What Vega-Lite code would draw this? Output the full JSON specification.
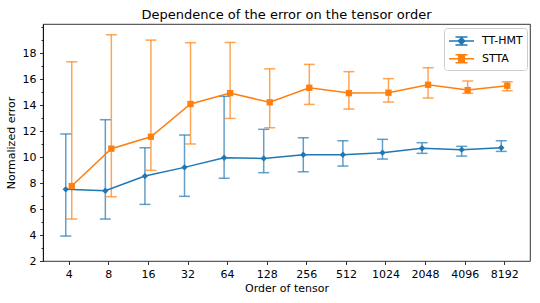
{
  "$schema": "https://vega.github.io/schema/vega-lite/v6.json",
  "width": 487,
  "height": 237,
  "autosize": "none",
  "padding": {"left": 43, "top": 24, "right": 10, "bottom": 42},
  "title": {"text": "Dependence of the error on the tensor order", "fontSize": 13, "fontWeight": "normal", "font": "DejaVu Sans", "color": "black", "offset": -1, "frame": "group"},
  "config": {
    "font": "DejaVu Sans",
    "view": {"stroke": "black", "strokeWidth": 0.8},
    "axis": {"domainColor": "black", "domainWidth": 0.8, "tickColor": "black", "tickWidth": 0.8, "labelColor": "black", "labelFontSize": 11, "titleFontSize": 11, "titleFontWeight": "normal", "titleColor": "black", "grid": false, "labelFont": "DejaVu Sans", "titleFont": "DejaVu Sans"},
    "axisY": {"labelOverlap": false}
  },
  "data": {"values": [
    {"order": "4", "series": "TT-HMT", "mean": 7.52, "lo": 3.92, "hi": 11.78},
    {"order": "8", "series": "TT-HMT", "mean": 7.41, "lo": 5.23, "hi": 12.88},
    {"order": "16", "series": "TT-HMT", "mean": 8.54, "lo": 6.36, "hi": 10.72},
    {"order": "32", "series": "TT-HMT", "mean": 9.21, "lo": 6.98, "hi": 11.70},
    {"order": "64", "series": "TT-HMT", "mean": 9.95, "lo": 8.37, "hi": 14.68},
    {"order": "128", "series": "TT-HMT", "mean": 9.90, "lo": 8.80, "hi": 12.14},
    {"order": "256", "series": "TT-HMT", "mean": 10.18, "lo": 8.87, "hi": 11.49},
    {"order": "512", "series": "TT-HMT", "mean": 10.18, "lo": 9.31, "hi": 11.26},
    {"order": "1024", "series": "TT-HMT", "mean": 10.34, "lo": 9.85, "hi": 11.37},
    {"order": "2048", "series": "TT-HMT", "mean": 10.68, "lo": 10.29, "hi": 11.11},
    {"order": "4096", "series": "TT-HMT", "mean": 10.57, "lo": 10.08, "hi": 10.83},
    {"order": "8192", "series": "TT-HMT", "mean": 10.72, "lo": 10.44, "hi": 11.26},
    {"order": "4", "series": "STTA", "mean": 7.77, "lo": 5.23, "hi": 17.34},
    {"order": "8", "series": "STTA", "mean": 10.65, "lo": 6.95, "hi": 19.42},
    {"order": "16", "series": "STTA", "mean": 11.57, "lo": 8.98, "hi": 19.01},
    {"order": "32", "series": "STTA", "mean": 14.09, "lo": 11.01, "hi": 18.81},
    {"order": "64", "series": "STTA", "mean": 14.93, "lo": 12.98, "hi": 18.83},
    {"order": "128", "series": "STTA", "mean": 14.22, "lo": 12.26, "hi": 16.80},
    {"order": "256", "series": "STTA", "mean": 15.34, "lo": 14.06, "hi": 17.14},
    {"order": "512", "series": "STTA", "mean": 14.93, "lo": 13.70, "hi": 16.58},
    {"order": "1024", "series": "STTA", "mean": 14.96, "lo": 14.24, "hi": 16.04},
    {"order": "2048", "series": "STTA", "mean": 15.57, "lo": 14.55, "hi": 16.88},
    {"order": "4096", "series": "STTA", "mean": 15.16, "lo": 14.91, "hi": 15.86},
    {"order": "8192", "series": "STTA", "mean": 15.50, "lo": 15.11, "hi": 15.80}
  ]},
  "encoding": {
    "x": {"field": "order", "type": "ordinal", "sort": null,
      "scale": {"type": "point", "padding": 0.65, "domain": ["4","8","16","32","64","128","256","512","1024","2048","4096","8192"]},
      "axis": {"title": "Order of tensor", "labelAngle": 0, "tickSize": 3.5, "labelPadding": 3.5, "titlePadding": 3, "domain": false}},
    "xOffset": {"field": "series", "type": "nominal", "scale": {"type": "point", "range": [-3, 3], "padding": 0, "domain": ["TT-HMT", "STTA"]}},
    "color": {"field": "series", "type": "nominal", "scale": {"domain": ["TT-HMT", "STTA"], "range": ["#1f77b4", "#ff7f0e"]},
      "legend": {"title": null, "orient": "top-right", "offset": 3.5, "fillColor": "white", "strokeColor": "#cccccc", "cornerRadius": 3, "padding": 4,
           "labelFontSize": 11, "labelColor": "black", "symbolSize": 256, "symbolStrokeWidth": 1.5, "symbolOpacity": 1, "rowPadding": 1.7, "labelOffset": 16,
           "symbolType": "M-1,0H2.125",
           "encode": {"symbols": {"update": {
             "shape": {"signal": "datum.value === 'TT-HMT' ? 'M-1,0H2.125M0.5625,-0.5V0.5M-0.1875,-0.5H1.3125M-0.1875,0.5H1.3125M0.5625,-0.4L0.9625,0L0.5625,0.4L0.1625,0Z' : 'M-1,0H2.125M0.5625,-0.5V0.5M-0.1875,-0.5H1.3125M-0.1875,0.5H1.3125M0.2125,-0.35H0.9125V0.35H0.2125Z'"},
             "stroke": {"scale": "color", "field": "value"},
             "fill": {"scale": "color", "field": "value"},
             "strokeWidth": {"value": 1.5},
             "opacity": {"value": 1}}}}}},
    "y": {"field": "mean", "type": "quantitative",
         "scale": {"domain": [2, 20.25], "nice": false, "zero": false},
         "axis": {"title": "Normalized error", "values": [2,3,4,5,6,7,8,9,10,11,12,13,14,15,16,17,18,19,20],
           "labelExpr": "datum.value % 2 == 0 && datum.value <= 18 ? datum.label : ''",
           "labelOverlap": false,
           "tickSize": {"condition": {"test": "datum.value % 2 == 0 && datum.value <= 18", "value": 3.5}, "value": 2},
           "labelPadding": 3.5, "titlePadding": 6, "labelFlush": false}}
  },
  "layer": [
    {"mark": {"type": "rule", "strokeWidth": 1.5, "opacity": 0.7},
     "encoding": {"y": {"field": "lo", "type": "quantitative"}, "y2": {"field": "hi"}}},
    {"mark": {"type": "tick", "size": 11, "thickness": 1.5, "opacity": 0.7},
     "encoding": {"y": {"field": "lo", "type": "quantitative"}}},
    {"mark": {"type": "tick", "size": 11, "thickness": 1.5, "opacity": 0.7},
     "encoding": {"y": {"field": "hi", "type": "quantitative"}}},
    {"mark": {"type": "line", "strokeWidth": 1.5}},
    {"transform": [{"filter": "datum.series === 'TT-HMT'"}],
     "mark": {"type": "point", "filled": true, "size": 40, "opacity": 1, "shape": "diamond"}},
    {"transform": [{"filter": "datum.series === 'STTA'"}],
     "mark": {"type": "point", "filled": true, "size": 40, "opacity": 1, "shape": "square"}}
  ]
}
